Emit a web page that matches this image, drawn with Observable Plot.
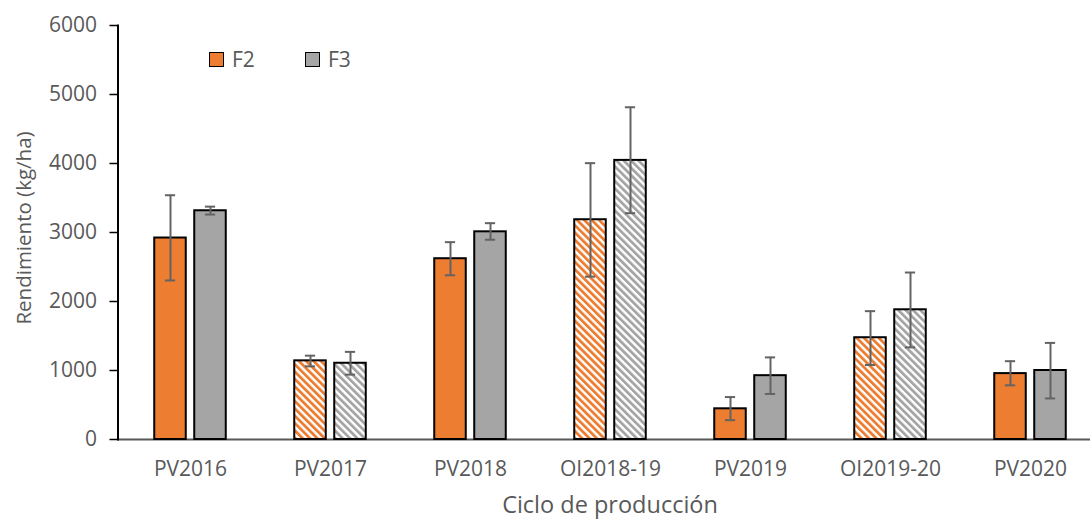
<!DOCTYPE html>
<html>
<head>
<meta charset="utf-8">
<script src="https://cdn.jsdelivr.net/npm/d3@7"></script>
<script src="https://cdn.jsdelivr.net/npm/@observablehq/plot@0.6"></script>
<style>
  html, body { margin: 0; padding: 0; background: #fff; }
  #wrap { position: relative; width: 1090px; height: 521px; font-family: "Open Sans", sans-serif; }
  .legend { position: absolute; top: 45px; left: 209px; display: flex; gap: 0; font-size: 21px; color: #595959; }
  .legend .item { display: flex; align-items: center; width: 96px; }
  .legend .sw { width: 13px; height: 13px; border: 1px solid #000; margin-right: 8px; box-sizing: content-box; }
</style>
</head>
<body>
<div id="wrap">
  <div id="chart"></div>
  <div class="legend">
    <div class="item"><span class="sw" style="background:#ED7D31"></span>F2</div>
    <div class="item"><span class="sw" style="background:#A5A5A5"></span>F3</div>
  </div>
</div>
<script>
const categories = ["PV2016", "PV2017", "PV2018", "OI2018-19", "PV2019", "OI2019-20", "PV2020"];
const hatched    = [false, true, false, true, false, true, false];
const f2Values   = [2920, 1140, 2620, 3185, 445, 1475, 955];
const f2Low      = [2305, 1060, 2380, 2360, 280, 1080, 785];
const f2High     = [3540, 1215, 2860, 4005, 615, 1860, 1135];
const f3Values   = [3315, 1105, 3010, 4045, 925, 1880, 1000];
const f3Low      = [3260, 940, 2895, 3280, 660, 1335, 595];
const f3High     = [3375, 1270, 3135, 4815, 1190, 2420, 1400];
const yTicks     = [0, 1000, 2000, 3000, 4000, 5000, 6000];

const colors = {F2: "#ED7D31", F3: "#A5A5A5"};

const rows = [];
categories.forEach((c, i) => {
  rows.push({cat: c, series: "F2", value: f2Values[i], lo: f2Low[i], hi: f2High[i], hatched: hatched[i]});
  rows.push({cat: c, series: "F3", value: f3Values[i], lo: f3Low[i], hi: f3High[i], hatched: hatched[i]});
});

const W = 1090, H = 521;
const xRange = [117.5, 1102.9];
const bw = (xRange[1] - xRange[0]) / categories.length;
const barW = 32.3, capW = 11, off = 20;
const barInset = (bw - barW) / 2;
const capInset = (bw - capW) / 2;

const marks = [];
for (const s of ["F2", "F3"]) {
  const dx = s === "F2" ? -off : off;
  const data = rows.filter(r => r.series === s);
  marks.push(Plot.barY(data.filter(r => !r.hatched), {x: "cat", y: "value", fill: colors[s], stroke: "#000", strokeWidth: 2, insetLeft: barInset, insetRight: barInset, dx}));
  marks.push(Plot.barY(data.filter(r => r.hatched), {x: "cat", y: "value", fill: `url(#hatch${s})`, stroke: "#000", strokeWidth: 2, insetLeft: barInset, insetRight: barInset, dx}));
  marks.push(Plot.ruleX(data, {x: "cat", y1: "lo", y2: "hi", stroke: "#636363", strokeWidth: 2, dx}));
  marks.push(Plot.tickY(data, {x: "cat", y: "lo", stroke: "#636363", strokeWidth: 2, insetLeft: capInset, insetRight: capInset, dx}));
  marks.push(Plot.tickY(data, {x: "cat", y: "hi", stroke: "#636363", strokeWidth: 2, insetLeft: capInset, insetRight: capInset, dx}));
}

const chart = Plot.plot({
  width: W,
  height: H,
  marginTop: 25,
  marginBottom: 82,
  marginLeft: 117.5,
  marginRight: 0,
  style: {fontFamily: "Open Sans, sans-serif", fontSize: "21px", color: "#595959", background: "#fff"},
  x: {domain: categories, range: xRange, padding: 0, label: null},
  y: {domain: [0, 6000], label: null},
  marks: [
    Plot.ruleY([0], {stroke: "#595959", strokeWidth: 2}),
    ...marks,
    Plot.axisY({ticks: yTicks, tickFormat: d3.format("d"), tickSize: 8, tickPadding: 13, stroke: "#000", strokeWidth: 1.5, fill: "#595959", fontSize: 21, label: null}),
    Plot.axisX({tickSize: 0, tickPadding: 22, fill: "#595959", fontSize: 21, label: null}),
    Plot.frame({anchor: "left", stroke: "#000", strokeWidth: 2})
  ]
});

// hatch patterns (defs) for the diagonal-stripe fills
const ns = "http://www.w3.org/2000/svg";
const defs = document.createElementNS(ns, "defs");
for (const s of ["F2", "F3"]) {
  const p = document.createElementNS(ns, "pattern");
  p.setAttribute("id", `hatch${s}`);
  p.setAttribute("patternUnits", "userSpaceOnUse");
  p.setAttribute("width", "5.2");
  p.setAttribute("height", "5.2");
  p.setAttribute("patternTransform", "rotate(-45)");
  const bg = document.createElementNS(ns, "rect");
  bg.setAttribute("width", "5.2"); bg.setAttribute("height", "5.2"); bg.setAttribute("fill", "#fff");
  const st = document.createElementNS(ns, "rect");
  st.setAttribute("width", "2.8"); st.setAttribute("height", "5.2"); st.setAttribute("fill", colors[s]);
  p.appendChild(bg); p.appendChild(st);
  defs.appendChild(p);
}
chart.insertBefore(defs, chart.firstChild);
document.getElementById("chart").appendChild(chart);

// axis titles as SVG text
function addText(txt, x, y, size, rotate) {
  const t = document.createElementNS(ns, "text");
  t.setAttribute("text-anchor", "middle");
  t.setAttribute("fill", "#595959");
  t.setAttribute("font-size", size);
  t.setAttribute("font-family", "Open Sans, sans-serif");
  if (rotate) t.setAttribute("transform", `translate(${x},${y}) rotate(-90)`);
  else { t.setAttribute("x", x); t.setAttribute("y", y); }
  t.textContent = txt;
  chart.appendChild(t);
}
addText("Ciclo de producción", 610, 513, 23.5, false);
addText("Rendimiento (kg/ha)", 31, 228, 20.5, true);
</script>
</body>
</html>
